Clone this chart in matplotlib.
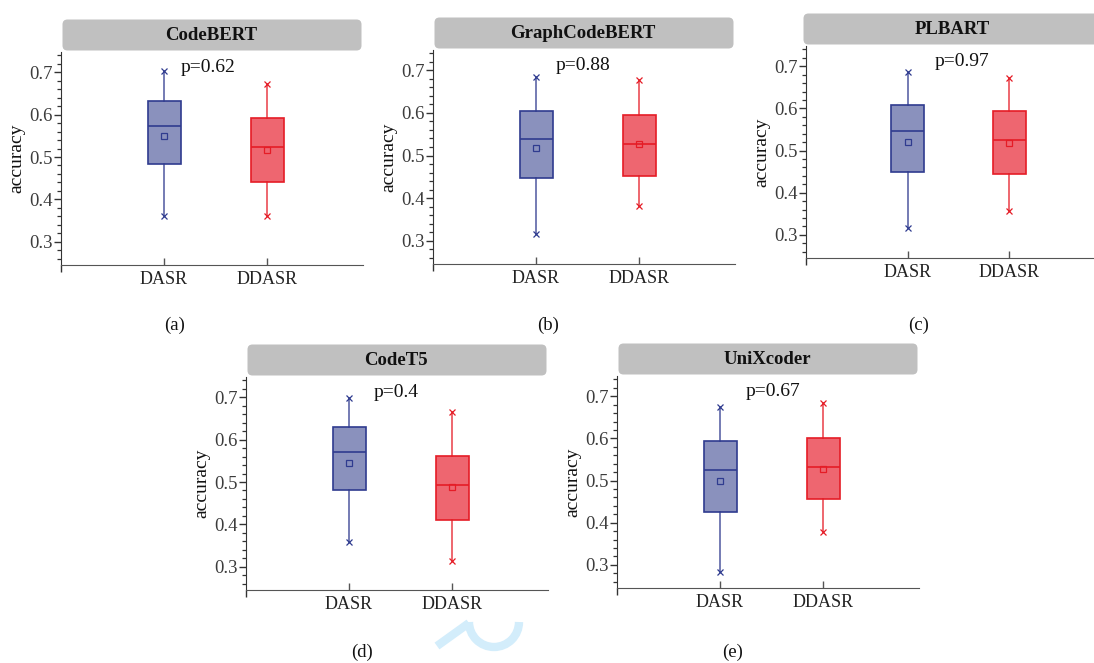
import numpy as np
import matplotlib.pyplot as plt
from matplotlib.patches import FancyBboxPatch, Arc
from matplotlib.ticker import MultipleLocator, FixedLocator

plt.rcParams['font.family'] = ['Liberation Serif', 'DejaVu Serif']

models = ['CodeBERT', 'GraphCodeBERT', 'PLBART', 'CodeT5', 'UniXcoder']
methods = ['DASR', 'DDASR']
p_values = ['p=0.62', 'p=0.88', 'p=0.97', 'p=0.4', 'p=0.67']
captions = ['(a)', '(b)', '(c)', '(d)', '(e)']

# accuracy summaries: lower whisker, Q1, median, Q3, upper whisker, mean
dasr_low = [0.361, 0.316, 0.316, 0.359, 0.283]
dasr_q1 = [0.484, 0.446, 0.448, 0.481, 0.425]
dasr_med = [0.574, 0.538, 0.546, 0.570, 0.525]
dasr_q3 = [0.633, 0.605, 0.608, 0.629, 0.593]
dasr_high = [0.702, 0.684, 0.686, 0.698, 0.675]
dasr_mean = [0.550, 0.518, 0.521, 0.546, 0.498]

ddasr_low = [0.361, 0.381, 0.357, 0.314, 0.377]
ddasr_q1 = [0.441, 0.453, 0.444, 0.411, 0.455]
ddasr_med = [0.523, 0.528, 0.525, 0.493, 0.532]
ddasr_q3 = [0.593, 0.596, 0.593, 0.561, 0.600]
ddasr_high = [0.672, 0.678, 0.673, 0.665, 0.684]
ddasr_mean = [0.517, 0.528, 0.517, 0.489, 0.528]

W, H = 1094, 663
# panel boxes in pixels: left, top, width, height
panels = [(61, 52, 302, 213), (433, 50, 302, 214), (806, 46, 298, 212),
          (246, 377, 302, 213), (617, 376, 302, 212)]
header_dx = [0, 0, -4, 0, 0]
caption_xy = [(175, 325), (548, 325), (919, 325), (362, 652), (733, 652)]
p_x = [1.43, 1.46, 1.53, 1.46, 1.51]

blue_face, blue_edge = '#8a91bd', '#2f3b8f'
red_face, red_edge = '#ee6670', '#e51c26'

fig = plt.figure(figsize=(W / 100, H / 100), dpi=100)

overlay = fig.add_axes([0, 0, 1, 1], zorder=-1)
overlay.set_xlim(0, W)
overlay.set_ylim(H, 0)
overlay.axis('off')


def summary(lo, q1, med, q3, hi, mean):
    return dict(whislo=lo, q1=q1, med=med, q3=q3, whishi=hi, mean=mean, fliers=[])


for i, name in enumerate(models):
    left, top, w, h = panels[i]
    ax = fig.add_axes([left / W, 1 - (top + h) / H, w / W, h / H])

    groups = [
        (1, summary(dasr_low[i], dasr_q1[i], dasr_med[i], dasr_q3[i], dasr_high[i], dasr_mean[i]),
         blue_face, blue_edge),
        (2, summary(ddasr_low[i], ddasr_q1[i], ddasr_med[i], ddasr_q3[i], ddasr_high[i], ddasr_mean[i]),
         red_face, red_edge),
    ]
    for pos, st, face, edge in groups:
        ax.bxp([st], positions=[pos], widths=0.32, patch_artist=True,
               showmeans=True, showcaps=False, showfliers=False,
               boxprops=dict(facecolor=face, edgecolor=edge, linewidth=1.2),
               medianprops=dict(color=edge, linewidth=1.2),
               whiskerprops=dict(color=edge, linewidth=1.1, alpha=0.85),
               meanprops=dict(marker='s', markersize=4.5, markerfacecolor='none',
                              markeredgecolor=edge, markeredgewidth=0.9))
        ax.plot([pos, pos], [st['whislo'], st['whishi']], ls='none',
                marker='x', markersize=5, color=edge, markeredgewidth=0.9)

    ax.set_xlim(0, 2.93)
    ax.set_ylim(0.245, 0.748)
    ax.spines['top'].set_visible(False)
    ax.spines['right'].set_visible(False)
    ax.spines['left'].set_color('#333333')
    ax.spines['bottom'].set_color('#555555')

    ax.yaxis.set_minor_locator(MultipleLocator(0.02))
    ax.set_yticks([0.3, 0.4, 0.5, 0.6, 0.7])
    ax.set_yticklabels(['0.3', '0.4', '0.5', '0.6', '0.7'])
    ax.set_xticks([1, 2])
    ax.set_xticklabels(methods)
    ax.xaxis.set_minor_locator(FixedLocator([0.0]))

    ax.tick_params(axis='y', which='major', direction='out', length=5, width=1,
                   color='#333333', labelsize=13.5, labelcolor='#3c3c3c', pad=1)
    ax.tick_params(axis='y', which='minor', direction='out', length=3, width=0.9,
                   color='#333333')
    ax.tick_params(axis='x', which='major', direction='in', length=5, width=1,
                   color='#555555', labelsize=13, labelcolor='#222222', pad=4)
    ax.tick_params(axis='x', which='minor', direction='out', length=5, width=1,
                   color='#333333')

    ax.set_ylabel('accuracy', fontsize=14, color='#111111', labelpad=3)
    ax.patch.set_alpha(0)

    ax.text(p_x[i], 0.712, p_values[i], ha='center', va='center',
            fontsize=14, color='#111111')

    # grey header strip with the model name
    hx = left + header_dx[i]
    bar = FancyBboxPatch((hx + 3, top - 31), w - 6, 28,
                         boxstyle='round,pad=1.5,rounding_size=5',
                         facecolor='#c0c0c0', edgecolor='none')
    overlay.add_patch(bar)
    overlay.text(hx + 150, top - 16.5, name, ha='center', va='center',
                 fontsize=13.5, fontweight='bold', color='#111111')

    cx, cy = caption_xy[i]
    overlay.text(cx, cy, captions[i], ha='center', va='center',
                 fontsize=13.5, color='#111111')

# faint logo stroke near the bottom edge
overlay.plot([437, 469], [646, 623], color='#d3edfb', linewidth=6, solid_capstyle='butt')
overlay.add_patch(Arc((494, 622), 50, 50, theta1=0, theta2=180,
                      color='#d3edfb', linewidth=6))

fig.savefig('out.png', dpi=100)
